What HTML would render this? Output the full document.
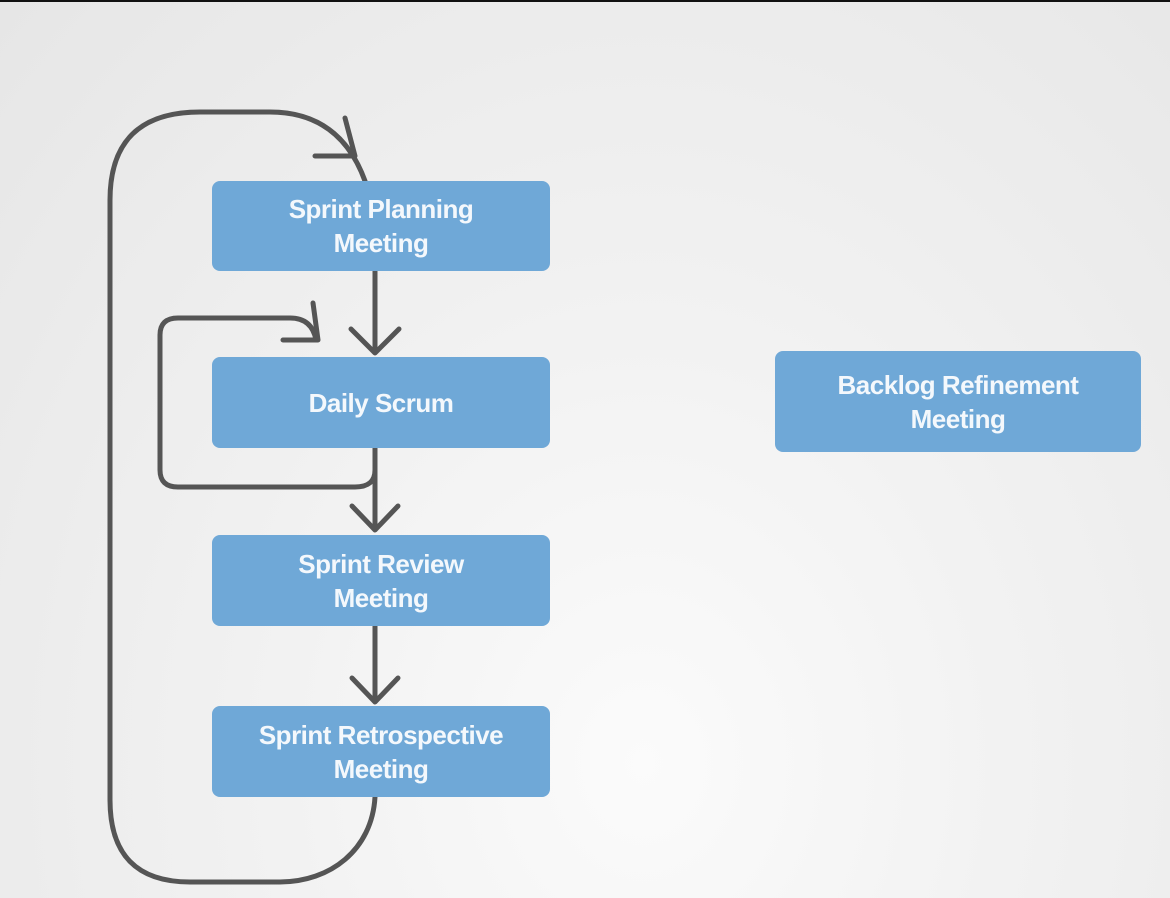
<!DOCTYPE html>
<html><head><style>
html,body{margin:0;padding:0}
body{width:1170px;height:898px;overflow:hidden;position:relative;
background:radial-gradient(ellipse at 55% 85%, #fbfbfb 0%, #f2f2f2 40%, #e6e6e6 100%);
font-family:"Liberation Sans Narrow","Liberation Sans",sans-serif;}
.top{position:absolute;left:0;top:0;width:1170px;height:2px;background:#111}
.box{position:absolute;background:#6fa8d7;border-radius:8px;color:#f4f8fc;font-weight:bold;
font-size:26px;line-height:34px;display:flex;align-items:center;justify-content:center;text-align:center;letter-spacing:-0.5px}
svg{position:absolute;left:0;top:0}
</style></head><body>
<div class="top"></div>
<svg width="1170" height="898" fill="none" stroke="#555" stroke-width="5" stroke-linecap="round" stroke-linejoin="round">
<path d="M375,797 C372,850 330,882 280,882 L190,882 Q110,882 110,800 L110,200 Q110,112 200,112 L270,112 Q340,112 365,181"/>
<path d="M315,156 L355,156 L345,118"/>
<path d="M375,448 L375,470 Q375,487 355,487 L178,487 Q160,487 160,470 L160,335 Q160,318 178,318 L290,318 Q312,318 316,340"/>
<path d="M283,340 L318,340 L313,303"/>
<path d="M375,271 L375,353 M351,329 L375,353 L399,329"/>
<path d="M375,448 L375,530 M352,506 L375,530 L398,506"/>
<path d="M375,626 L375,702 M352,678 L375,702 L398,678"/>
</svg>
<div class="box" style="left:212px;top:181px;width:338px;height:90px">Sprint Planning<br>Meeting</div>
<div class="box" style="left:212px;top:357px;width:338px;height:91px">Daily Scrum</div>
<div class="box" style="left:212px;top:535px;width:338px;height:91px">Sprint Review<br>Meeting</div>
<div class="box" style="left:212px;top:706px;width:338px;height:91px">Sprint Retrospective<br>Meeting</div>
<div class="box" style="left:775px;top:351px;width:366px;height:101px">Backlog Refinement<br>Meeting</div>
</body></html>
